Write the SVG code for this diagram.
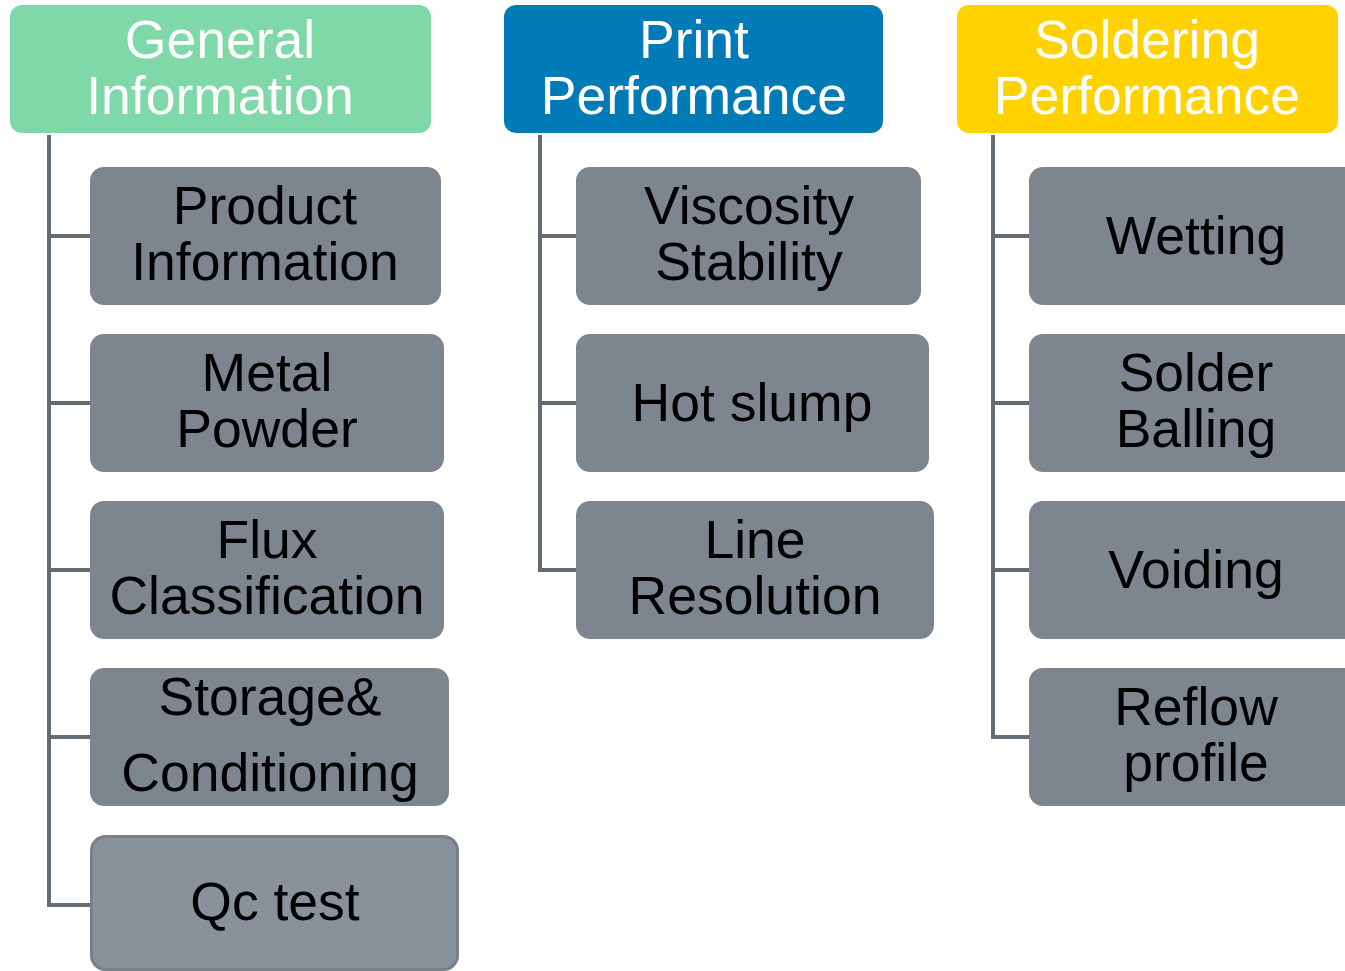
<svg xmlns="http://www.w3.org/2000/svg" width="1345" height="971" viewBox="0 0 1345 971">
<style>
.hdr text{font-family:"Liberation Sans",Arial,sans-serif;font-size:53.5px;fill:#ffffff;text-anchor:middle}
.node rect{fill:#7d868f}
.node text{font-family:"Liberation Sans",Arial,sans-serif;font-size:53.5px;fill:#000000;text-anchor:middle}
.conn{fill:none;stroke:#636b73;stroke-width:4}
</style>
<rect width="1345" height="971" fill="#ffffff"/>
<g id="connectors">
<path class="conn" d="M49,135 V905 H90 M49,236 H90 M49,403 H90 M49,570 H90 M49,737 H90"/>
<path class="conn" d="M540,135 V570 H576 M540,236 H576 M540,403 H576"/>
<path class="conn" d="M993,135 V737 H1029 M993,236 H1029 M993,403 H1029 M993,570 H1029"/>
</g>
<g id="general-information" class="hdr">
<rect x="10" y="5" width="421" height="128" rx="12" fill="#7fd8a8"/>
<text x="220" y="58">General</text>
<text x="220" y="114">Information</text>
</g>
<g id="print-performance" class="hdr">
<rect x="504" y="5" width="379" height="128" rx="12" fill="#007bb8"/>
<text x="694" y="58">Print</text>
<text x="694" y="114">Performance</text>
</g>
<g id="soldering-performance" class="hdr">
<rect x="957" y="5" width="381" height="128" rx="12" fill="#ffd200"/>
<text x="1147" y="58">Soldering</text>
<text x="1147" y="114">Performance</text>
</g>
<g id="product-information" class="node">
<rect x="90" y="167" width="351" height="138" rx="14"/>
<text x="265" y="224">Product</text>
<text x="265" y="280">Information</text>
</g>
<g id="metal-powder" class="node">
<rect x="90" y="334" width="354" height="138" rx="14"/>
<text x="267" y="391">Metal</text>
<text x="267" y="447">Powder</text>
</g>
<g id="flux-classification" class="node">
<rect x="90" y="501" width="354" height="138" rx="14"/>
<text x="267" y="558">Flux</text>
<text x="267" y="614">Classification</text>
</g>
<g id="storage-conditioning" class="node">
<rect x="90" y="668" width="359" height="138" rx="14"/>
<text x="270" y="715">Storage&amp;</text>
<text x="270" y="791">Conditioning</text>
</g>
<g id="qc-test" class="node">
<rect x="91.5" y="836.5" width="366" height="133" rx="14" style="fill:#89929a;stroke:#78818a;stroke-width:3"/>
<text x="275" y="920">Qc test</text>
</g>
<g id="viscosity-stability" class="node">
<rect x="576" y="167" width="345" height="138" rx="14"/>
<text x="749" y="224">Viscosity</text>
<text x="749" y="280">Stability</text>
</g>
<g id="hot-slump" class="node">
<rect x="576" y="334" width="353" height="138" rx="14"/>
<text x="752" y="421">Hot slump</text>
</g>
<g id="line-resolution" class="node">
<rect x="576" y="501" width="358" height="138" rx="14"/>
<text x="755" y="558">Line</text>
<text x="755" y="614">Resolution</text>
</g>
<g id="wetting" class="node">
<rect x="1029" y="167" width="334" height="138" rx="14"/>
<text x="1196" y="254">Wetting</text>
</g>
<g id="solder-balling" class="node">
<rect x="1029" y="334" width="334" height="138" rx="14"/>
<text x="1196" y="391">Solder</text>
<text x="1196" y="447">Balling</text>
</g>
<g id="voiding" class="node">
<rect x="1029" y="501" width="334" height="138" rx="14"/>
<text x="1196" y="588">Voiding</text>
</g>
<g id="reflow-profile" class="node">
<rect x="1029" y="668" width="334" height="138" rx="14"/>
<text x="1196" y="725">Reflow</text>
<text x="1196" y="781">profile</text>
</g>
</svg>
